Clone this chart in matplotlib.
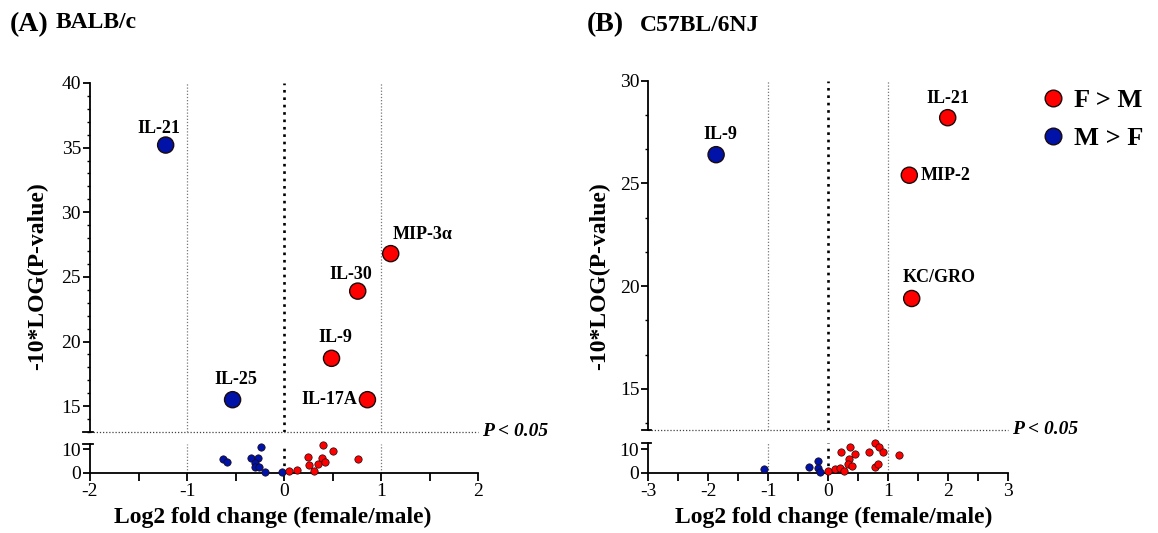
import matplotlib
matplotlib.use("Agg")
import matplotlib.pyplot as plt
import matplotlib.transforms as mtransforms
from matplotlib.lines import Line2D
from matplotlib.ticker import MultipleLocator, FixedLocator

plt.rcParams['font.family'] = ['Liberation Serif', 'DejaVu Serif']

# ---------------- data ----------------
# Panel A: BALB/c
a_sig_names = ['IL-21', 'IL-25', 'MIP-3α', 'IL-30', 'IL-9', 'IL-17A']
a_sig_fc = [-1.22, -0.53, 1.10, 0.76, 0.49, 0.86]
a_sig_p = [35.2, 15.5, 26.8, 23.9, 18.7, 15.5]

a_ns_blue_fc = [-0.632, -0.584, -0.237, -0.337, -0.268, -0.30, -0.30, -0.258, -0.192, -0.017]
a_ns_blue_p = [5.7, 4.6, 11.1, 6.3, 6.3, 4.3, 2.4, 2.4, 0.2, 0.3]
a_ns_red_fc = [0.052, 0.131, 0.251, 0.261, 0.306, 0.354, 0.388, 0.423, 0.405, 0.502, 0.766]
a_ns_red_p = [0.9, 1.1, 6.9, 3.1, 0.6, 3.7, 6.1, 4.4, 11.7, 9.4, 5.7]

# Panel B: C57BL/6NJ
b_sig_names = ['IL-21', 'IL-9', 'MIP-2', 'KC/GRO']
b_sig_fc = [1.99, -1.87, 1.35, 1.39]
b_sig_p = [28.2, 26.4, 25.4, 19.4]

b_ns_blue_fc = [-1.08, -0.33, -0.17, -0.17, -0.14]
b_ns_blue_p = [1.4, 2.3, 5.1, 2.0, 0.4]
b_ns_red_fc = [0.0, 0.11, 0.20, 0.26, 0.21, 0.36, 0.44, 0.34, 0.32, 0.40,
               0.67, 0.77, 0.85, 0.91, 0.78, 0.83, 1.17]
b_ns_red_p = [0.7, 1.6, 2.2, 0.7, 8.7, 11.1, 8.1, 5.8, 3.7, 2.8,
              9.0, 12.6, 11.0, 8.8, 2.6, 3.7, 7.7]

p_threshold = 13.01  # -10*log10(0.05)
legend_labels = ['F > M', 'M > F']

# ---------------- style ----------------
RED = '#ff0000'
BLUE = '#0012a8'
EDGE = '#1a0a0a'

a_label_style = {  # offset (points), ha, va
    'IL-21': ((-5, 12), 'center', 'center'),
    'IL-25': ((2, 14.5), 'center', 'center'),
    'MIP-3α': ((23, 13.7), 'center', 'center'),
    'IL-30': ((-5, 12), 'center', 'center'),
    'IL-9': ((3, 15), 'center', 'center'),
    'IL-17A': ((-7, 0), 'right', 'center'),
}
b_label_style = {
    'IL-21': ((0, 13.7), 'center', 'center'),
    'IL-9': ((3, 14.4), 'center', 'center'),
    'MIP-2': ((8, 0), 'left', 'center'),
    'KC/GRO': ((19.5, 15), 'center', 'center'),
}

W, H = 1158, 533
fig = plt.figure(figsize=(W / 100, H / 100), dpi=100)


def px_rect(left, top, right, bottom):
    return [left / W, 1 - bottom / H, (right - left) / W, (bottom - top) / H]


def col(v):
    return RED if v > 0 else BLUE


def make_panel(up_rect, lo_rect, xlim, xmajor, up_ylim, up_major, up_minor, lo_ylim,
               sig_fc, sig_p, sig_names, lab_style,
               nsb_fc, nsb_p, nsr_fc, nsr_p):
    axu = fig.add_axes(up_rect)
    axl = fig.add_axes(lo_rect)
    for ax in (axu, axl):
        ax.set_xlim(*xlim)
        for s in ('top', 'right'):
            ax.spines[s].set_visible(False)
        ax.spines['left'].set_linewidth(1.3)
        ax.spines['bottom'].set_linewidth(1.3)
        ax.axvline(0, color='black', lw=1.9, ls=(0, (1, 1.8)), zorder=1)
        ax.axvline(-1, color='#777777', lw=0.9, ls=(0, (1, 1.5)), zorder=1)
        ax.axvline(1, color='#777777', lw=0.9, ls=(0, (1, 1.5)), zorder=1)
        ax.tick_params(axis='y', which='major', direction='out', length=5, width=1.3,
                       labelsize=14, pad=1.5)
        ax.tick_params(axis='y', which='minor', direction='out', length=2.5, width=1.0)
    # upper
    axu.spines['bottom'].set_visible(False)
    axu.set_ylim(*up_ylim)
    axu.yaxis.set_major_locator(FixedLocator(up_major))
    axu.yaxis.set_minor_locator(MultipleLocator(up_minor))
    axu.set_xticks([])
    axu.axhline(p_threshold, color='#444444', lw=0.9, ls=(0, (1, 1.5)), zorder=1, clip_on=False)
    trans = mtransforms.blended_transform_factory(axu.transAxes, axu.transData)
    axu.text(1.01, p_threshold, 'P < 0.05', transform=trans, fontsize=14,
             fontweight='bold', fontstyle='italic', ha='left', va='center')
    axu.scatter(sig_fc, sig_p, s=135, c=[col(v) for v in sig_fc], edgecolors=EDGE,
                linewidths=1.0, zorder=3, clip_on=False)
    for x, y, name in zip(sig_fc, sig_p, sig_names):
        off, ha, va = lab_style[name]
        axu.annotate(name, (x, y), xytext=off, textcoords='offset points',
                     ha=ha, va=va, fontsize=13, fontweight='bold')
    # break marks
    axu.plot([-0.018, 0.008], [0, 0], transform=axu.transAxes, color='black',
             lw=1.3, clip_on=False)
    # lower
    axl.set_ylim(*lo_ylim)
    axl.set_yticks([0, 10])
    axl.set_xticks(xmajor)
    axl.xaxis.set_minor_locator(MultipleLocator(0.5))
    axl.tick_params(axis='x', which='major', direction='out', length=5.5, width=1.3,
                    labelsize=14, pad=2)
    axl.tick_params(axis='x', which='minor', direction='out', length=5.5, width=1.3)
    axl.set_xticklabels([f'{v:g}' for v in xmajor])
    axl.scatter(nsb_fc, nsb_p, s=28, c=BLUE, edgecolors=EDGE, linewidths=0.5,
                zorder=3, clip_on=False)
    axl.scatter(nsr_fc, nsr_p, s=28, c=RED, edgecolors=EDGE, linewidths=0.5,
                zorder=3, clip_on=False)
    axl.plot([-0.018, 0.008], [1, 1], transform=axl.transAxes, color='black',
             lw=1.3, clip_on=False)
    return axu, axl


a_up, a_lo = make_panel(px_rect(90, 83, 478, 432), px_rect(90, 444, 478, 472.7),
                        (-2, 2), [-2, -1, 0, 1, 2], (13.0, 40), [15, 20, 25, 30, 35, 40], 1,
                        (0, 12.3), a_sig_fc, a_sig_p, a_sig_names, a_label_style,
                        a_ns_blue_fc, a_ns_blue_p, a_ns_red_fc, a_ns_red_p)

b_up, b_lo = make_panel(px_rect(648.3, 80.7, 1008.3, 430), px_rect(648.3, 442.7, 1008.3, 472.7),
                        (-3, 3), [-3, -2, -1, 0, 1, 2, 3], (13.0, 30), [15, 20, 25, 30], 5 / 3,
                        (0, 12.8), b_sig_fc, b_sig_p, b_sig_names, b_label_style,
                        b_ns_blue_fc, b_ns_blue_p, b_ns_red_fc, b_ns_red_p)

# axis labels
for cx in (272.5 / W, 834 / W):
    fig.text(cx, 1 - 517 / H, 'Log2 fold change (female/male)', fontsize=17,
             fontweight='bold', ha='center', va='center')
for cx in (38 / W, 600 / W):
    fig.text(cx, 1 - 276 / H, '-10*LOG(P-value)', fontsize=17, fontweight='bold',
             rotation=90, ha='center', va='center')

# panel titles
fig.text(10 / W, 1 - 31 / H, '(A)', fontsize=20, fontweight='bold', ha='left', va='baseline')
fig.text(56 / W, 1 - 28 / H, 'BALB/c', fontsize=17, fontweight='bold', ha='left', va='baseline')
fig.text(587 / W, 1 - 31 / H, '(B)', fontsize=20, fontweight='bold', ha='left', va='baseline')
fig.text(640 / W, 1 - 31 / H, 'C57BL/6NJ', fontsize=17, fontweight='bold', ha='left', va='baseline')

# legend
handles = [Line2D([], [], ls='none', marker='o', markersize=12, markerfacecolor=c,
                  markeredgecolor=EDGE, markeredgewidth=1.0) for c in (RED, BLUE)]
fig.legend(handles, legend_labels, loc='upper left', bbox_to_anchor=(1040 / W, 1 - 89 / H),
           frameon=False, prop={'size': 19, 'weight': 'bold'}, handlelength=1.0,
           handletextpad=0.3, labelspacing=0.55, borderpad=0, borderaxespad=0)

fig.savefig('out.png', dpi=100)
